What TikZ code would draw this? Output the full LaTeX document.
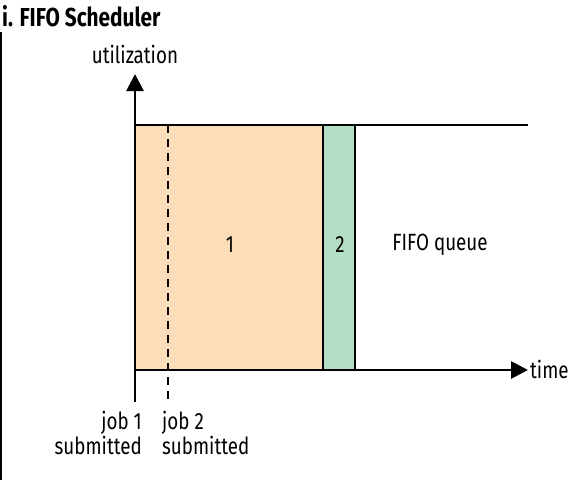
\documentclass[tikz,border=0pt]{standalone}
\usepackage{fontspec}
\setmainfont{Fira Sans}[FakeStretch=0.8]
\usetikzlibrary{arrows.meta}
\definecolor{peach}{HTML}{FBDDB9}
\definecolor{mint}{HTML}{B2DFC6}
\begin{document}
\begin{tikzpicture}[x=1pt,y=-1pt,
  lbl/.style={font=\fontsize{23.5}{25}\selectfont, inner sep=0pt},
  axis/.style={line width=2.8pt},
  tip/.style={-{Triangle[length=17pt,width=17pt]}}]
\useasboundingbox (0,0) rectangle (573,480);
% left border artifact
\draw[line width=1.5pt] (0.75,32) -- (0.75,480);
% title
\node[lbl, anchor=west, font=\fontsize{26}{28}\selectfont\bfseries] (title) at (2,16) {i. FIFO Scheduler};
% fills
\fill[peach] (135,125) rectangle (323,370);
\fill[mint] (323,125) rectangle (355,370);
% coordinates
\coordinate (o) at (135,370);
\coordinate (ybot) at (135,402);
\coordinate (ytop) at (135,74);
\coordinate (xend) at (528,370);
\coordinate (tl) at (135,125);
\coordinate (tr) at (528,125);
\coordinate (d1) at (168,125);
\coordinate (d2) at (168,402);
\coordinate (s1t) at (323,125);
\coordinate (s1b) at (323,370);
\coordinate (s2t) at (355,125);
\coordinate (s2b) at (355,370);
% lines
\draw[axis] (tl) -- (tr);
\draw[axis] (s1t) -- (s1b);
\draw[axis] (s2t) -- (s2b);
\draw[line width=2.8pt, dash pattern=on 8pt off 6pt] (d1) -- (d2);
\draw[axis, tip] (ybot) -- (ytop);
\draw[axis, tip] (o) -- (xend);
% labels
\node[lbl] (util) at (135,54) {utilization};
\node[lbl, anchor=west] (time) at (530,369) {time};
\node[lbl] (one) at (230,245) {1};
\node[lbl] (two) at (340,245) {2};
\node[lbl] (queue) at (440,245) {FIFO queue};
\node[lbl, align=right, anchor=north east] (j1) at (142,411) {job 1\\submitted};
\node[lbl, align=left, anchor=north west] (j2) at (162,411) {job 2\\submitted};
\end{tikzpicture}
\end{document}
